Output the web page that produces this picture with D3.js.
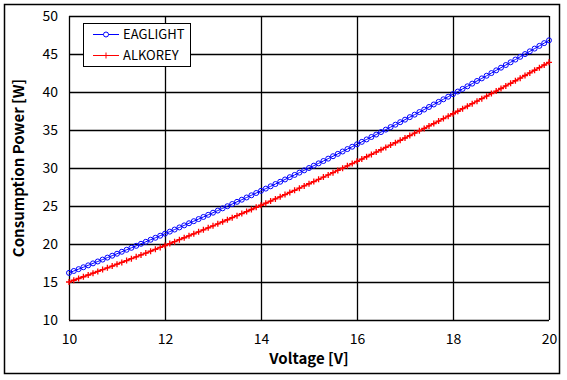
<!DOCTYPE html>
<html><head><meta charset="utf-8">
<script src="https://cdn.jsdelivr.net/npm/d3@7"></script>
<style>body{margin:0;background:#fff;}svg{display:block;}</style>
</head><body>
<script>
const voltage = [10.0,10.1,10.2,10.3,10.4,10.5,10.6,10.7,10.8,10.9,11.0,11.1,11.2,11.3,11.4,11.5,11.6,11.7,11.8,11.9,12.0,12.1,12.2,12.3,12.4,12.5,12.6,12.7,12.8,12.9,13.0,13.1,13.2,13.3,13.4,13.5,13.6,13.7,13.8,13.9,14.0,14.1,14.2,14.3,14.4,14.5,14.6,14.7,14.8,14.9,15.0,15.1,15.2,15.3,15.4,15.5,15.6,15.7,15.8,15.9,16.0,16.1,16.2,16.3,16.4,16.5,16.6,16.7,16.8,16.9,17.0,17.1,17.2,17.3,17.4,17.5,17.6,17.7,17.8,17.9,18.0,18.1,18.2,18.3,18.4,18.5,18.6,18.7,18.8,18.9,19.0,19.1,19.2,19.3,19.4,19.5,19.6,19.7,19.8,19.9,20.0];
const eaglight = [16.20,16.45,16.69,16.94,17.19,17.45,17.70,17.95,18.21,18.46,18.72,18.98,19.24,19.50,19.76,20.03,20.29,20.56,20.82,21.09,21.36,21.63,21.90,22.18,22.45,22.73,23.00,23.28,23.56,23.84,24.12,24.40,24.69,24.97,25.26,25.55,25.83,26.12,26.41,26.71,27.00,27.29,27.59,27.89,28.19,28.49,28.79,29.09,29.39,29.69,30.00,30.31,30.61,30.92,31.23,31.55,31.86,32.17,32.49,32.80,33.12,33.44,33.76,34.08,34.40,34.73,35.05,35.38,35.70,36.03,36.36,36.69,37.02,37.36,37.69,38.03,38.36,38.70,39.04,39.38,39.72,40.06,40.41,40.75,41.10,41.45,41.79,42.14,42.49,42.85,43.20,43.55,43.91,44.27,44.63,44.99,45.35,45.71,46.07,46.43,46.80];
const alkorey = [15.00,15.23,15.46,15.69,15.92,16.16,16.39,16.63,16.86,17.10,17.34,17.58,17.82,18.07,18.31,18.56,18.80,19.05,19.30,19.55,19.80,20.06,20.31,20.57,20.82,21.08,21.34,21.60,21.86,22.13,22.39,22.65,22.92,23.19,23.46,23.73,24.00,24.27,24.54,24.82,25.10,25.37,25.65,25.93,26.21,26.50,26.78,27.06,27.35,27.64,27.93,28.21,28.51,28.80,29.09,29.39,29.68,29.98,30.28,30.58,30.88,31.18,31.48,31.79,32.09,32.40,32.71,33.01,33.32,33.64,33.95,34.26,34.58,34.89,35.21,35.53,35.85,36.17,36.50,36.82,37.14,37.47,37.80,38.13,38.46,38.79,39.12,39.45,39.79,40.12,40.46,40.80,41.14,41.48,41.82,42.17,42.51,42.86,43.20,43.55,43.90];
const xTicks = [10,12,14,16,18,20];
const yTicks = [10,15,20,25,30,35,40,45,50];
const seriesNames = ["EAGLIGHT","ALKOREY"];
const seriesColors = ["#0000ff","#ff0000"];
const xTitle = "Voltage [V]";
const yTitle = "Consumption Power [W]";

const W = 567, H = 380;
const svg = d3.select("body").append("svg").attr("width", W).attr("height", H);
const font = "'Noto Sans CJK KR','Noto Sans',sans-serif";

svg.append("rect").attr("x",4.5).attr("y",4.5).attr("width",555).attr("height",369)
  .attr("fill","#fff").attr("stroke","#000").attr("stroke-width",1.5);

const x = d3.scaleLinear().domain([10,20]).range([69,549]);
const y = d3.scaleLinear().domain([10,50]).range([320,16]);

// grid
const g = svg.append("g");
g.selectAll(".vx").data(xTicks).join("line")
  .attr("x1",d=>Math.round(x(d))+0.5).attr("x2",d=>Math.round(x(d))+0.5)
  .attr("y1",y(50)).attr("y2",y(10)).attr("stroke","#000").attr("stroke-width",1.3);
g.selectAll(".hy").data(yTicks).join("line")
  .attr("y1",d=>Math.round(y(d))+0.5).attr("y2",d=>Math.round(y(d))+0.5)
  .attr("x1",x(10)).attr("x2",x(20)).attr("stroke","#000").attr("stroke-width",1.3);

// axes (labels only)
const xAxis = d3.axisBottom(x).tickValues(xTicks).tickSize(0).tickPadding(14).tickFormat(d3.format("d"));
const ax = svg.append("g").attr("transform",`translate(0,${y(10)})`).call(xAxis);
ax.select(".domain").remove();
ax.selectAll("text").attr("font-family",font).attr("font-size",14).attr("fill","#000");
const yAxis = d3.axisLeft(y).tickValues(yTicks).tickSize(0).tickPadding(11).tickFormat(d3.format("d"));
const ay = svg.append("g").attr("transform",`translate(${x(10)},0)`).call(yAxis);
ay.select(".domain").remove();
ay.selectAll("text").attr("font-family",font).attr("font-size",14).attr("fill","#000");

// titles
svg.append("text").attr("x",309).attr("y",364).attr("text-anchor","middle")
  .attr("font-family",font).attr("font-size",15).attr("font-weight","bold").text(xTitle);
svg.append("text").attr("transform","translate(24,168) rotate(-90)").attr("text-anchor","middle")
  .attr("font-family",font).attr("font-size",15).attr("font-weight","bold").text(yTitle);

const line = d3.line().x((d,i)=>x(voltage[i])).y(d=>y(d));
const data = [eaglight, alkorey];

// series
svg.append("path").datum(eaglight).attr("d",line).attr("fill","none").attr("stroke",seriesColors[0]).attr("stroke-width",1);
svg.append("g").selectAll("circle").data(eaglight).join("circle")
  .attr("cx",(d,i)=>x(voltage[i])).attr("cy",d=>y(d)).attr("r",2.5)
  .attr("fill","none").attr("stroke",seriesColors[0]).attr("stroke-width",1);

svg.append("path").datum(alkorey).attr("d",line).attr("fill","none").attr("stroke",seriesColors[1]).attr("stroke-width",1.5);
svg.append("g").selectAll("path").data(alkorey).join("path")
  .attr("d",(d,i)=>{const cx=x(voltage[i]),cy=y(d);return `M${cx-3},${cy}H${cx+3}M${cx},${cy-3}V${cy+3}`;})
  .attr("stroke",seriesColors[1]).attr("stroke-width",1.3).attr("fill","none");

// legend
const lg = svg.append("g");
lg.append("rect").attr("x",83.5).attr("y",23.5).attr("width",107).attr("height",43)
  .attr("fill","#fff").attr("stroke","#000").attr("stroke-width",1);
const rows = [34,55];
seriesNames.forEach((name,i)=>{
  const ry = rows[i];
  lg.append("line").attr("x1",93).attr("x2",119).attr("y1",ry+0.5).attr("y2",ry+0.5).attr("stroke",seriesColors[i]).attr("stroke-width",1);
  if(i===0){
    lg.append("circle").attr("cx",106).attr("cy",ry+0.5).attr("r",2.5).attr("fill","#fff").attr("stroke",seriesColors[i]);
  } else {
    lg.append("path").attr("d",`M103,${ry+0.5}H109M106,${ry-2.5}V${ry+3.5}`).attr("stroke",seriesColors[i]).attr("stroke-width",1);
  }
  lg.append("text").attr("x",123).attr("y",ry+5).attr("font-family",font).attr("font-size",13).attr("fill","#000").text(name);
});
</script>
</body></html>
